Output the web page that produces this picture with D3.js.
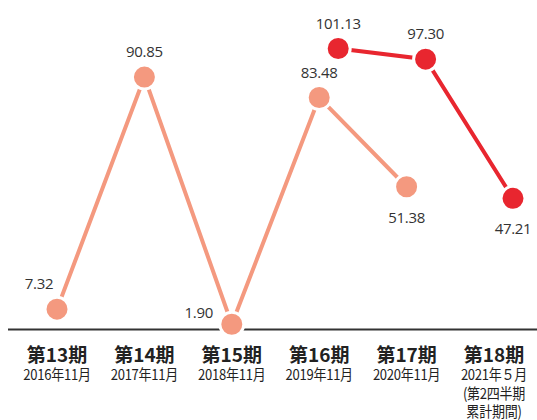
<!DOCTYPE html>
<html>
<head>
<meta charset="utf-8">
<script src="https://cdn.jsdelivr.net/npm/d3@7"></script>
<style>
  html, body { margin: 0; padding: 0; background: #fff; }
  svg { display: block; }
</style>
</head>
<body>
<script>
// data
var periods   = ['第13期', '第14期', '第15期', '第16期', '第17期', '第18期'],
    subLabels = [['2016年11月'], ['2017年11月'], ['2018年11月'], ['2019年11月'], ['2020年11月'],
                 ['2021年５月', '(第2四半期', '累計期間)']];

// annual series (salmon)
var annualPeriods = ['第13期', '第14期', '第15期', '第16期', '第17期'],
    annualValues  = [7.32, 90.85, 1.90, 83.48, 51.38],
    annualPlace   = ['topleft', 'top', 'left', 'top', 'bottom'];

// half-year series (red)
var halfPeriods = ['第16期', '第17期', '第18期'],
    halfValues  = [101.13, 97.30, 47.21],
    halfPlace   = ['top', 'top', 'bottom'];

// init
var width  = 537,
    height = 420,
    salmon = '#f4997f',
    red    = '#e8262f';

// x scale (categories)
var xScale = d3.scalePoint().domain(periods).range([57, 494]);
// y scale
var yScale = d3.scaleLinear().domain([0, 101.13]).range([329.5, 48.5]);

var svg = d3.select('body')
    .append('svg')
    .attr('width', width)
    .attr('height', height);

// baseline
svg.append('line')
    .attr('x1', 8).attr('x2', width)
    .attr('y1', yScale(0)).attr('y2', yScale(0))
    .attr('stroke', '#333')
    .attr('stroke-width', 2);

// category labels
var cats = svg.selectAll('.cat').data(periods).enter()
    .append('g')
    .attr('class', 'cat')
    .attr('transform', function(d) { return 'translate(' + xScale(d) + ',0)'; });

cats.append('text')
    .attr('y', 362)
    .attr('text-anchor', 'middle')
    .attr('font-family', '"Noto Sans CJK JP", sans-serif')
    .attr('font-weight', 'bold')
    .attr('font-size', 19)
    .attr('fill', '#222')
    .text(function(d) { return d; });

cats.each(function(d, i) {
    d3.select(this).selectAll('.sub').data(subLabels[i]).enter()
        .append('text')
        .attr('class', 'sub')
        .attr('transform', function(s, j) { return 'translate(0,' + (380 + j * 18.5) + ') scale(0.87,1)'; })
        .attr('text-anchor', 'middle')
        .attr('font-family', '"Noto Sans CJK JP", sans-serif')
        .attr('font-size', 15)
        .attr('letter-spacing', -0.3)
        .attr('fill', '#222')
        .text(function(s) { return s; });
});

/**
 * draw one series
 */
function drawSeries(cls, keys, values, places, color, offset) {
    var pts = keys.map(function(k, i) {
        return { x: xScale(k) + offset, y: yScale(values[i]), v: values[i], p: places[i] };
    });
    var line = d3.line().x(function(d) { return d.x; }).y(function(d) { return d.y; });

    svg.append('path')
        .datum(pts)
        .attr('d', line)
        .attr('fill', 'none')
        .attr('stroke', color)
        .attr('stroke-width', 4);

    svg.selectAll('.dot-' + cls).data(pts).enter()
        .append('circle')
        .attr('class', 'dot-' + cls)
        .attr('cx', function(d) { return d.x; })
        .attr('cy', function(d) { return d.y; })
        .attr('r', 12)
        .attr('fill', color)
        .attr('stroke', '#fff')
        .attr('stroke-width', 3);

    svg.selectAll('.lbl-' + cls).data(pts).enter()
        .append('text')
        .attr('class', 'lbl-' + cls)
        .attr('x', function(d) {
            if (d.p === 'topleft') return d.x - 18;
            if (d.p === 'left') return d.x - 33;
            return d.x;
        })
        .attr('y', function(d) {
            if (d.p === 'bottom') return d.y + 36;
            if (d.p === 'left') return d.y - 6;
            return d.y - 20;
        })
        .attr('text-anchor', 'middle')
        .attr('font-family', '"Open Sans", sans-serif')
        .attr('font-size', 15)
        .attr('letter-spacing', -0.3)
        .attr('fill', '#333')
        .text(function(d) { return d.v.toFixed(2); });
}

drawSeries('annual', annualPeriods, annualValues, annualPlace, salmon, 0);
drawSeries('half', halfPeriods, halfValues, halfPlace, red, 19);
</script>
</body>
</html>
